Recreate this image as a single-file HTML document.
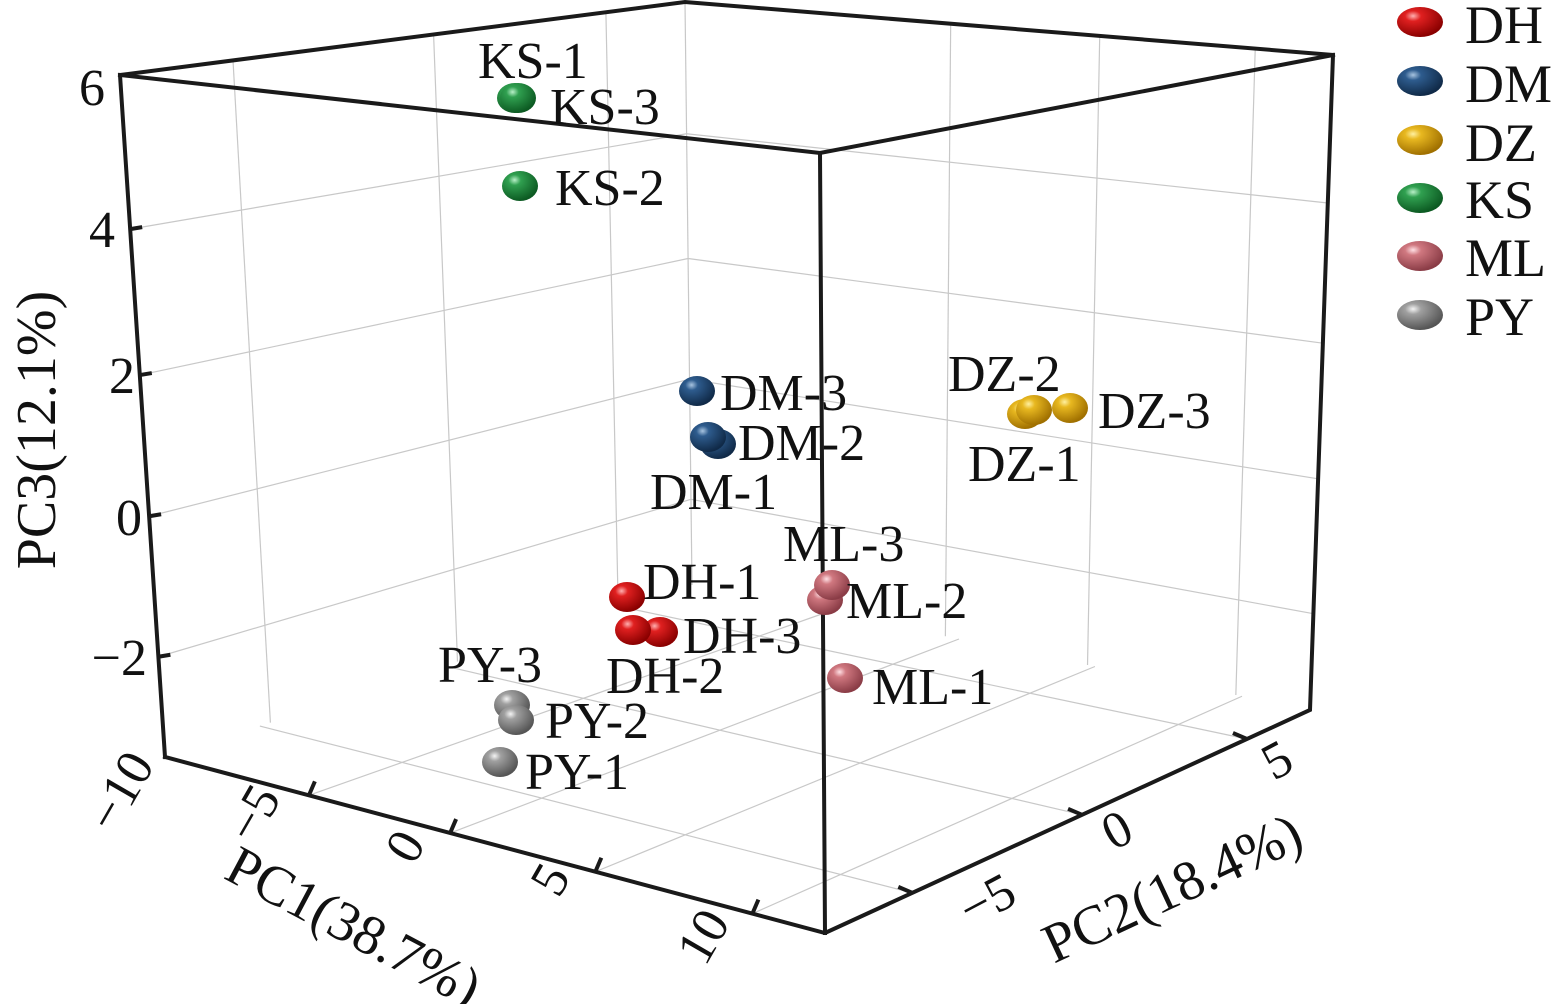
<!DOCTYPE html>
<html><head><meta charset="utf-8"><style>
html,body{margin:0;padding:0;background:#fff;}
svg{display:block;}
text{font-family:"Liberation Serif",serif;fill:#111;}
</style></head><body>
<svg id="s" width="1556" height="1004" viewBox="0 0 1556 1004" xmlns="http://www.w3.org/2000/svg">
<defs>
<radialGradient id="gR" cx="35%" cy="30%" r="70%"><stop offset="0" stop-color="#ffb0b0"/><stop offset="0.25" stop-color="#e02020"/><stop offset="1" stop-color="#8a0000"/></radialGradient>
<radialGradient id="gB" cx="35%" cy="30%" r="70%"><stop offset="0" stop-color="#a8c4e0"/><stop offset="0.25" stop-color="#2e5c8e"/><stop offset="1" stop-color="#102a48"/></radialGradient>
<radialGradient id="gY" cx="35%" cy="30%" r="70%"><stop offset="0" stop-color="#fff0a0"/><stop offset="0.25" stop-color="#e8b820"/><stop offset="1" stop-color="#a07000"/></radialGradient>
<radialGradient id="gG" cx="35%" cy="30%" r="70%"><stop offset="0" stop-color="#b8f0c8"/><stop offset="0.25" stop-color="#30a050"/><stop offset="1" stop-color="#0c5a22"/></radialGradient>
<radialGradient id="gP" cx="35%" cy="30%" r="70%"><stop offset="0" stop-color="#ffe0e4"/><stop offset="0.25" stop-color="#d07880"/><stop offset="1" stop-color="#8a3c46"/></radialGradient>
<radialGradient id="gS" cx="35%" cy="30%" r="70%"><stop offset="0" stop-color="#f4f4f4"/><stop offset="0.25" stop-color="#a0a0a0"/><stop offset="1" stop-color="#555"/></radialGradient>
</defs>
<g id="grid" stroke="#c8c8c8" stroke-width="1.2" fill="none"></g>
<g id="axes" stroke="#1a1a1a" stroke-width="4" fill="none" stroke-linecap="square">
<polyline points="165,757 120,75 685,2 1333,55 1310,710 825,933 165,757"/>
<polyline points="120,75 820,153 1333,55"/>
<line x1="820" y1="153" x2="825" y2="933"/>
</g>
<g id="ticks" stroke="#1a1a1a" stroke-width="4"></g>
<g id="pts"></g>
<g font-size="52">
<text x="105" y="105" text-anchor="end">6</text>
<text x="115" y="247" text-anchor="end">4</text>
<text x="135" y="393" text-anchor="end">2</text>
<text x="142" y="535" text-anchor="end">0</text>
<text x="147" y="675" text-anchor="end">−2</text>
<text transform="translate(55,430) rotate(-90)" text-anchor="middle" font-size="56">PC3(12.1%)</text>
<text transform="translate(135,800) rotate(-60)" text-anchor="middle">−10</text>
<text transform="translate(268,822) rotate(-60)" text-anchor="middle">−5</text>
<text transform="translate(420,855) rotate(-60)" text-anchor="middle">0</text>
<text transform="translate(565,888) rotate(-60)" text-anchor="middle">5</text>
<text transform="translate(718,945) rotate(-60)" text-anchor="middle">10</text>
<text transform="translate(345,943) rotate(28)" text-anchor="middle" font-size="56">PC1(38.7%)</text>
<text transform="translate(995,915) rotate(-28)" text-anchor="middle">−5</text>
<text transform="translate(1125,845) rotate(-28)" text-anchor="middle">0</text>
<text transform="translate(1285,775) rotate(-28)" text-anchor="middle">5</text>
<text transform="translate(1180,905) rotate(-25)" text-anchor="middle" font-size="56">PC2(18.4%)</text>
</g>
<g font-size="52">
<text x="478" y="78">KS-1</text><text x="550" y="124">KS-3</text><text x="555" y="205">KS-2</text>
<text x="720" y="410">DM-3</text><text x="738" y="460">DM-2</text><text x="650" y="509">DM-1</text>
<text x="948" y="391">DZ-2</text><text x="1098" y="428">DZ-3</text><text x="968" y="481">DZ-1</text>
<text x="783" y="561">ML-3</text><text x="846" y="618">ML-2</text><text x="872" y="704">ML-1</text>
<text x="643" y="599">DH-1</text><text x="683" y="653">DH-3</text><text x="606" y="693">DH-2</text>
<text x="438" y="682">PY-3</text><text x="545" y="738">PY-2</text><text x="525" y="789">PY-1</text>
</g>
<g font-size="54">
<text x="1465" y="43">DH</text><text x="1465" y="102">DM</text><text x="1465" y="161">DZ</text>
<text x="1465" y="218">KS</text><text x="1465" y="276">ML</text><text x="1465" y="335">PY</text>
</g>
</svg>
<script>
var NS="http://www.w3.org/2000/svg";
function L(g,a,b,c,d){var e=document.createElementNS(NS,"line");e.setAttribute("x1",a);e.setAttribute("y1",b);e.setAttribute("x2",c);e.setAttribute("y2",d);g.appendChild(e);}
function lerp(p,q,t){return [p[0]+(q[0]-p[0])*t,p[1]+(q[1]-p[1])*t];}
var A=[120,75],Bt=[685,2],C=[1333,55],F0=[165,757],Bb=[692,585],Cb=[1310,710],D=[825,933];
var g=document.getElementById("grid");
[0.226,0.44,0.647,0.853].forEach(function(t){var p=lerp(A,F0,t),q=lerp(Bt,Bb,t),r=lerp(C,Cb,t);L(g,p[0],p[1],q[0],q[1]);L(g,q[0],q[1],r[0],r[1]);});
[0.2,0.555,0.86].forEach(function(t){var p=lerp(A,Bt,t),q=lerp(F0,Bb,t);L(g,p[0],p[1],q[0],q[1]);});
[0.41,0.64,0.88].forEach(function(t){var p=lerp(Bt,C,t),q=lerp(Bb,Cb,t);L(g,p[0],p[1],q[0],q[1]);});
L(g,Bt[0],Bt[1],Bb[0],Bb[1]);
[0.218,0.432,0.652,0.89].forEach(function(t){var p=lerp(F0,D,t),q=lerp(Bb,Cb,t);L(g,p[0],p[1],q[0],q[1]);});
[0.18,0.53,0.87].forEach(function(t){var p=lerp(D,Cb,t),q=lerp(F0,Bb,t);L(g,p[0],p[1],q[0],q[1]);});
var tk=document.getElementById("ticks");
[0.226,0.44,0.647,0.853].forEach(function(t){var p=lerp(A,F0,t);L(tk,p[0],p[1],p[0]+12,p[1]-2);});
[0.218,0.432,0.652,0.89].forEach(function(t){var p=lerp(F0,D,t);L(tk,p[0],p[1],p[0]+6,p[1]-14);});
[0.18,0.53,0.87].forEach(function(t){var p=lerp(D,Cb,t);L(tk,p[0],p[1],p[0]-14,p[1]-6);});
var pts=[["gG",515,98],["gG",518,98],["gG",520,186],["gB",697,391],["gB",718,444],["gB",708,437],
["gY",1025,414],["gY",1034,410],["gY",1070,408],["gP",825,600],["gP",832,585],["gP",845,678],
["gR",627,597],["gR",660,632],["gR",633,630],["gS",512,705],["gS",516,720],["gS",500,762],
["gR",1420,22],["gB",1420,81],["gY",1420,140],["gG",1420,198],["gP",1420,256],["gS",1420,315]];
var pg=document.getElementById("pts");
pts.forEach(function(p){var e=document.createElementNS(NS,"ellipse");var big=p[1]>1400;e.setAttribute("cx",p[1]);e.setAttribute("cy",p[2]);e.setAttribute("rx",big?23:18);e.setAttribute("ry",15);e.setAttribute("fill","url(#"+p[0]+")");pg.appendChild(e);});
</script>
</body></html>
